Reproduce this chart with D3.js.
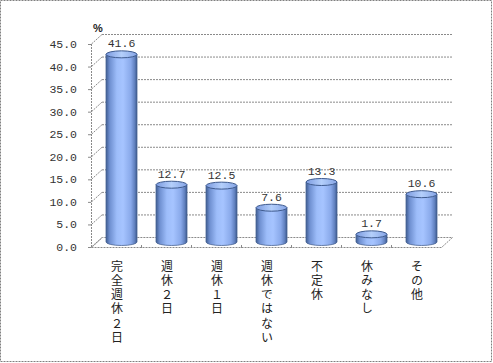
<!DOCTYPE html>
<html><head><meta charset="utf-8">
<script src="https://cdn.jsdelivr.net/npm/d3@7"></script>
<style>body{margin:0;background:#fff}svg{display:block}</style>
</head><body>
<script>
const categories = ["完全週休２日","週休２日","週休１日","週休ではない","不定休","休みなし","その他"];
const values = [41.6,12.7,12.5,7.6,13.3,1.7,10.6];
const yTicks = [0,5,10,15,20,25,30,35,40,45];

const W=493,H=363;
const svg=d3.select("body").append("svg").attr("width",W).attr("height",H);
svg.append("rect").attr("x",0.5).attr("y",0.5).attr("width",W-2).attr("height",H-2)
  .attr("fill","#fff").attr("stroke","#808080").attr("stroke-dasharray","2,1");

const DX=11, DY=-10;
const x=d3.scaleBand().domain(categories).range([91,441]).padding(0);
const yF=d3.scaleLinear().domain([0,45]).range([247,44]);
const yB=v=>yF(v)+DY;
const yM=v=>yF(v)+DY/2;
const grid="#8a8a8a";

// back wall gridlines
svg.append("g").selectAll("line").data(yTicks.filter(d=>d>0)).join("line")
  .attr("x1",91+DX).attr("x2",441+DX).attr("y1",d=>yB(d)+0.5).attr("y2",d=>yB(d)+0.5)
  .attr("stroke",grid).attr("stroke-dasharray","2,1");
// left wall diagonals
svg.append("g").selectAll("line").data(yTicks).join("line")
  .attr("x1",91.5).attr("x2",91.5+DX).attr("y1",d=>yF(d)).attr("y2",d=>yB(d))
  .attr("stroke",grid).attr("stroke-dasharray","2,1");
svg.append("line").attr("x1",91.5).attr("x2",91.5).attr("y1",yF(0)).attr("y2",yF(45))
  .attr("stroke",grid).attr("stroke-dasharray","2,1");
// floor
svg.append("path").attr("d",`M91.5,${yF(0)+0.5}L${441+0.5},${yF(0)+0.5}L${441+DX+0.5},${yB(0)+0.5}L${91+DX+0.5},${yB(0)+0.5}Z`)
  .attr("fill","none").attr("stroke",grid).attr("stroke-dasharray","2,1");
// ticks on front floor
svg.append("g").selectAll("line").data(categories.slice(1)).join("line")
  .attr("x1",d=>x(d)+0.5).attr("x2",d=>x(d)+0.5).attr("y1",yF(0)-2).attr("y2",yF(0)+1)
  .attr("stroke",grid);
// y ticks
svg.append("g").selectAll("line").data(yTicks).join("line")
  .attr("x1",88).attr("x2",91).attr("y1",d=>yF(d)+0.5).attr("y2",d=>yF(d)+0.5).attr("stroke",grid);

// y labels
svg.append("g").selectAll("text").data(yTicks).join("text")
  .attr("x",77).attr("y",d=>yF(d)+4).attr("text-anchor","end")
  .attr("font-family","Liberation Mono, DejaVu Sans Mono, monospace").attr("font-size",11.5)
  .attr("fill","#333").text(d=>d.toFixed(1));
svg.append("text").attr("x",93).attr("y",32).attr("font-family","Liberation Sans, Arial, sans-serif")
  .attr("font-size",11).attr("font-weight","bold").attr("fill","#222").text("%");

// gradient
const defs=svg.append("defs");
const g=defs.append("linearGradient").attr("id","cyl").attr("x1","0").attr("x2","1").attr("y1","0").attr("y2","0");
[[0,"#3f5d92"],[0.12,"#6e8fd0"],[0.35,"#9dbdfa"],[0.55,"#a6c4ff"],[0.8,"#89a9ea"],[0.93,"#5f7fbd"],[1,"#3a5688"]]
 .forEach(([o,c])=>g.append("stop").attr("offset",o).attr("stop-color",c));
const gt=defs.append("linearGradient").attr("id","cyltop").attr("x1","0").attr("x2","1");
[[0,"#7c9be0"],[0.5,"#b4cffb"],[1,"#86a5e6"]].forEach(([o,c])=>gt.append("stop").attr("offset",o).attr("stop-color",c));

const bw=31, ry=3.5;
const bars=svg.append("g").selectAll("g").data(categories.map((c,i)=>({c,v:values[i]}))).join("g");
const cx=d=>x(d.c)+x.bandwidth()/2+DX/2;
bars.append("path").attr("d",d=>{
  const l=cx(d)-bw/2,r=cx(d)+bw/2,t=yM(d.v),b=yM(0);
  return `M${l},${t}L${l},${b}A${bw/2},${ry} 0 0 0 ${r},${b}L${r},${t}Z`;
}).attr("fill","url(#cyl)").attr("stroke","#4a6494").attr("stroke-width",0.8);
bars.append("ellipse").attr("cx",cx).attr("cy",d=>yM(d.v)).attr("rx",bw/2).attr("ry",ry)
  .attr("fill","url(#cyltop)").attr("stroke","#3f5b8e").attr("stroke-width",1);
bars.append("text").attr("x",cx).attr("y",d=>yM(d.v)-7).attr("text-anchor","middle")
  .attr("font-family","Liberation Mono, DejaVu Sans Mono, monospace").attr("font-size",11.5)
  .attr("fill","#333").text(d=>d.v.toFixed(1));

// category labels vertical (one text per label)
svg.append("g").selectAll("text").data(categories).join("text")
  .attr("x",d=>x(d)+x.bandwidth()/2+1).attr("y",260)
  .style("writing-mode","vertical-rl").style("text-orientation","upright")
  .attr("letter-spacing",2.3)
  .attr("font-family","Noto Sans CJK JP, sans-serif")
  .attr("font-size",12).attr("fill","#222").text(d=>d);
</script>
</body></html>
